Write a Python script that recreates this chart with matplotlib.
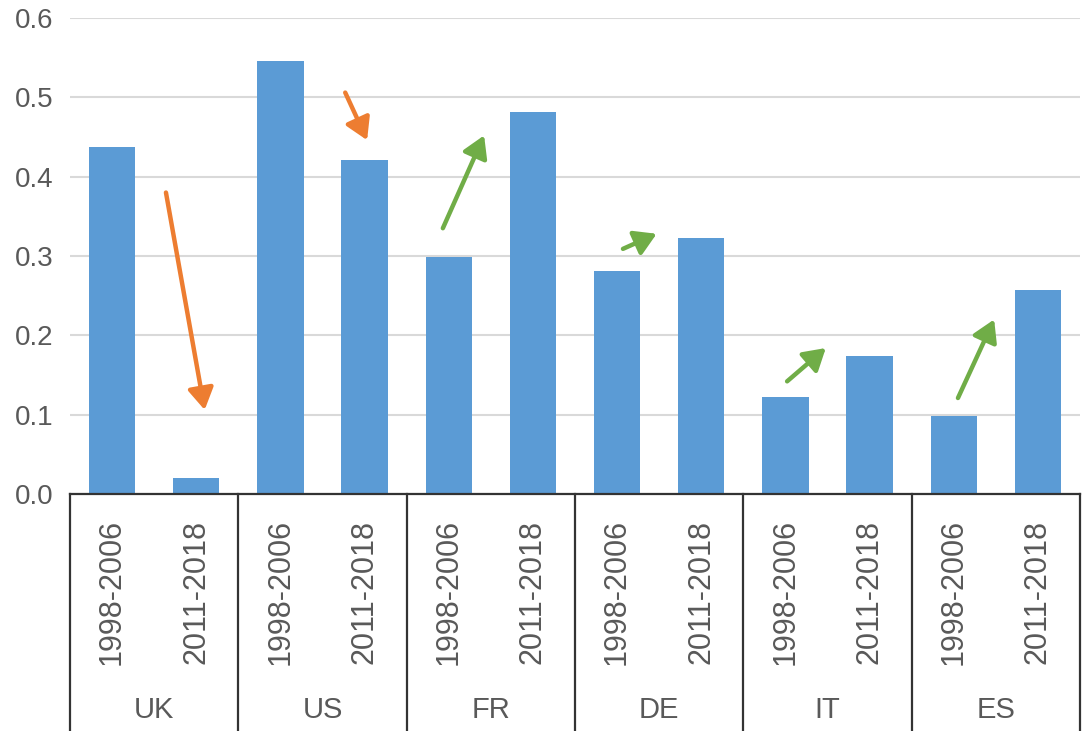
import numpy as np
from matplotlib import pyplot as plt
from matplotlib import transforms

countries = ["UK", "US", "FR", "DE", "IT", "ES"]
periods = ["1998-2006", "2011-2018"]
values = [0.438, 0.020, 0.546, 0.421, 0.299, 0.482,
          0.281, 0.323, 0.122, 0.174, 0.098, 0.257]

# arrows: (x0, y0, x1, y1, colour) in bar-index / value units
arrows = [
    (0.64, 0.380, 1.10, 0.106, "#ED7D31"),
    (2.77, 0.506, 3.03, 0.446, "#ED7D31"),
    (3.93, 0.335, 4.42, 0.452, "#70AD47"),
    (6.07, 0.309, 6.47, 0.328, "#70AD47"),
    (8.02, 0.142, 8.48, 0.184, "#70AD47"),
    (10.05, 0.121, 10.48, 0.220, "#70AD47"),
]

plt.rcParams["font.family"] = ["Liberation Sans", "DejaVu Sans"]
text_col = "#595959"


def main():
    fig = plt.figure(figsize=(10.83, 7.31), dpi=100)
    ax = fig.add_axes([70 / 1083, 237 / 731, 1010 / 1083, 476 / 731])

    x = np.arange(len(values))
    ax.bar(x, values, width=0.55, color="#5B9BD5", zorder=3)

    ax.set_xlim(-0.5, len(values) - 0.5)
    ax.set_ylim(0, 0.6)
    ax.set_yticks(np.arange(0, 0.61, 0.1))
    ax.set_yticklabels([f"{v:.1f}" for v in np.arange(0, 0.61, 0.1)])
    ax.tick_params(axis="y", length=0, labelsize=20, labelcolor=text_col, pad=12)
    ax.set_xticks([])
    ax.grid(axis="y", color="#D9D9D9", lw=1.5, zorder=0)
    for side in ["left", "right", "top"]:
        ax.spines[side].set_visible(False)
    ax.spines["bottom"].set_color("#333333")
    ax.spines["bottom"].set_linewidth(1.6)
    ax.spines["bottom"].set_zorder(4)

    trans = transforms.blended_transform_factory(ax.transData, ax.transAxes)
    for i, v in enumerate(values):
        ax.text(i, -0.205, periods[i % 2], rotation=90, ha="center", va="center",
                fontsize=22, color=text_col, transform=trans)
    for j, c in enumerate(countries):
        ax.text(2 * j + 0.5, -0.454, c, ha="center", va="center",
                fontsize=21, color=text_col, transform=trans)
    for k in range(len(countries) + 1):
        ax.plot([2 * k - 0.5, 2 * k - 0.5], [0, -0.52], color="#333333", lw=1.6,
                transform=trans, clip_on=False)

    for x0, y0, x1, y1, col in arrows:
        ax.annotate("", xy=(x1, y1), xytext=(x0, y0),
                    arrowprops=dict(arrowstyle="-|>,head_length=0.5,head_width=0.3",
                                    color=col, lw=3.2,
                                    mutation_scale=26, shrinkA=0, shrinkB=0),
                    zorder=5)

    fig.savefig("out.png", dpi=100)


if __name__ == "__main__":
    main()
